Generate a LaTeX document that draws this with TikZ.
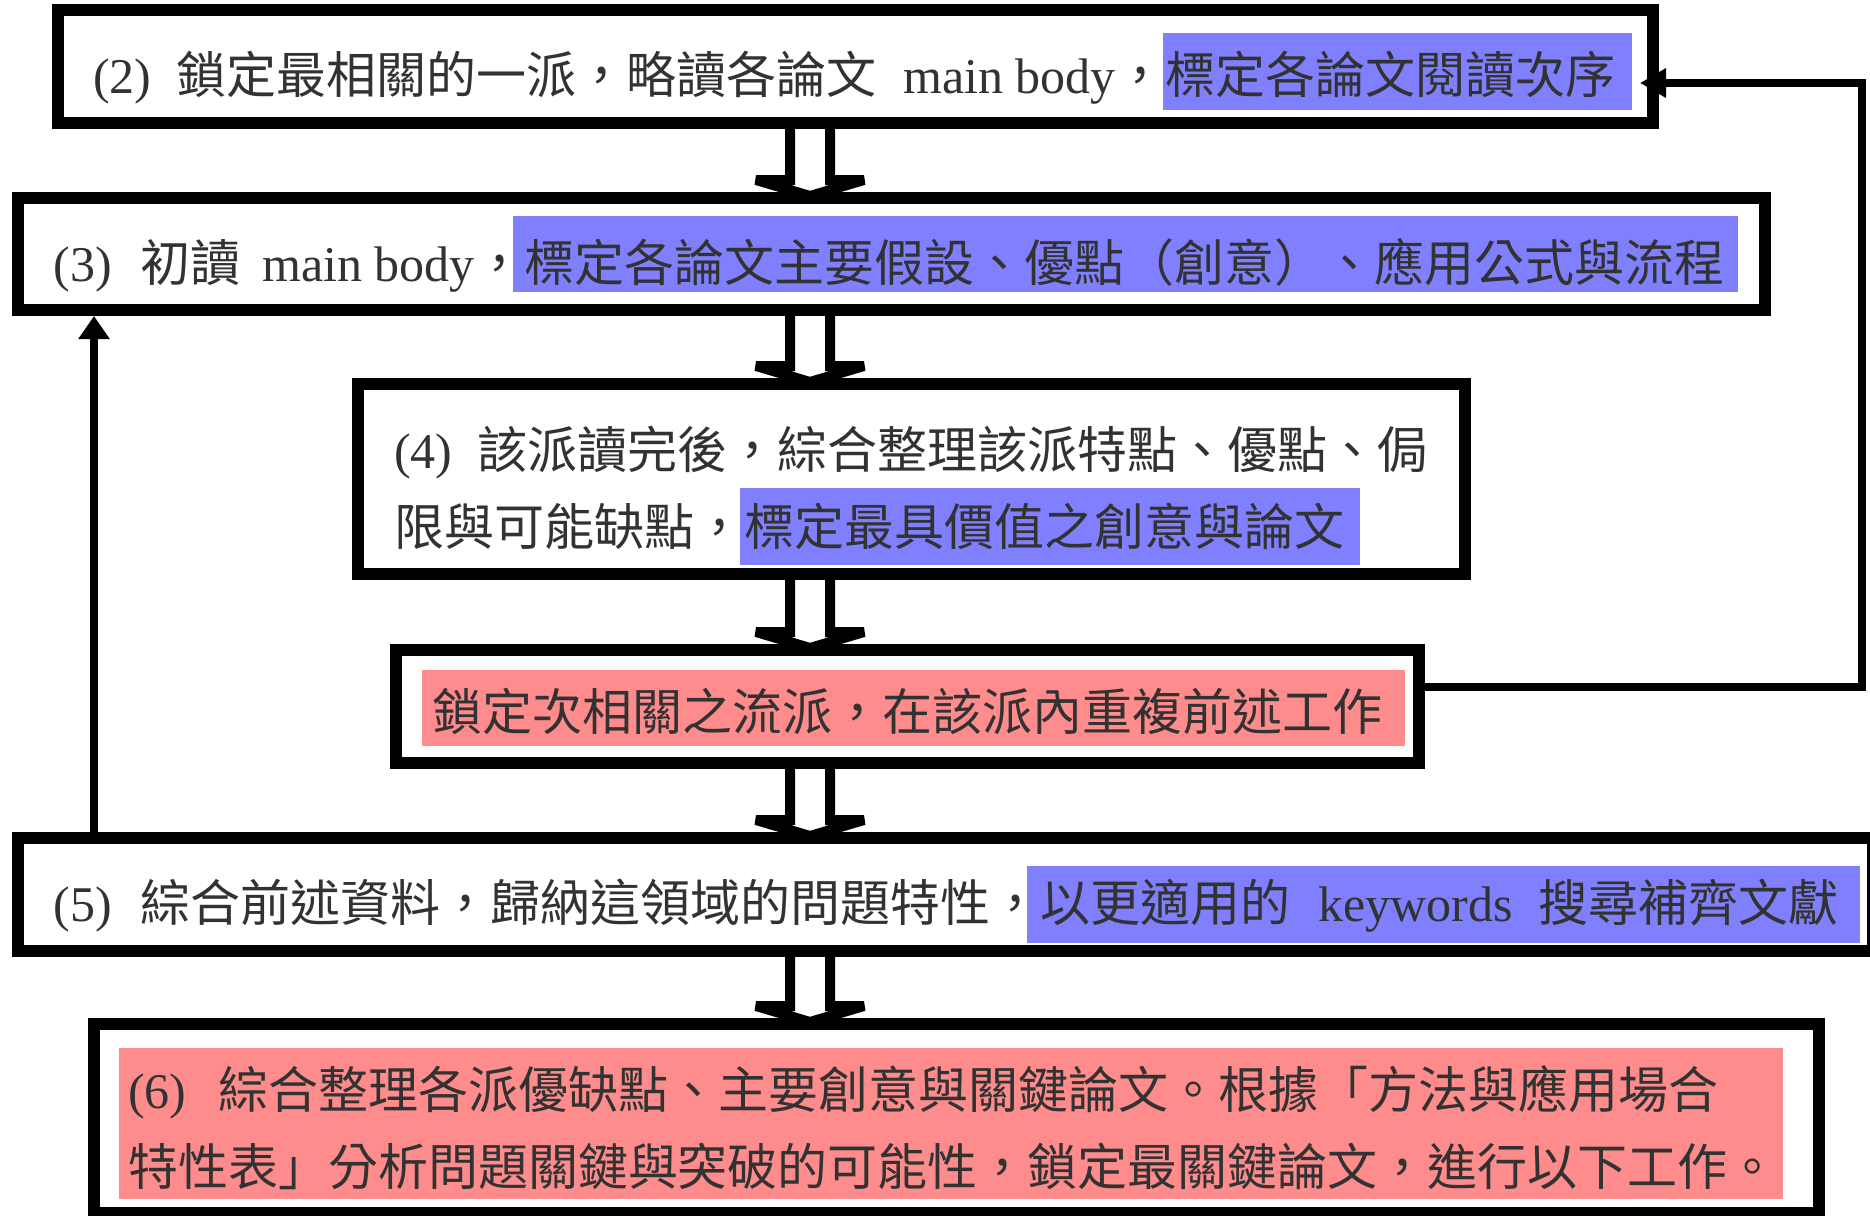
\documentclass[tikz,border=0pt]{standalone}
\usepackage{fontspec}
\setmainfont{Liberation Serif}
\newfontfamily\cjk{Noto Sans CJK TC}
\usetikzlibrary{arrows.meta,calc}
\definecolor{hlblue}{RGB}{128,128,255}
\definecolor{hlred}{RGB}{255,140,140}
\definecolor{txtcol}{RGB}{50,50,50}
\newcommand{\flowarrow}[2]{%
  \draw[hollow] ($(#1)+(-20,-3)$) -- ($(#2)+(-20,-12)$) -- ($(#2)+(-54,-12)$)
     -- ($(#2)+(0,4)$) -- ($(#2)+(54,-12)$) -- ($(#2)+(20,-12)$) -- ($(#1)+(20,-3)$);}
\begin{document}
\begin{tikzpicture}[x=0.5pt,y=-0.5pt,
  box/.style={draw=black, line width=6pt, inner sep=0pt, fill=none},
  hollow/.style={draw=black, line width=5pt, line join=miter, miter limit=2},
  fb/.style={draw=black, line width=4pt, line join=miter},
  txt/.style={anchor=base west, inner sep=0pt, outer sep=0pt,
              font=\fontsize{25pt}{30pt}\selectfont, text=txtcol},
  hlb/.style={fill=hlblue},
  hlr/.style={fill=hlred}]
\useasboundingbox (0,0) rectangle (1870,1216);
\clip (0,0) rectangle (1870,1216);

% highlights
\fill[hlb] (1163,33) rectangle (1632,110);
\fill[hlb] (513,216) rectangle (1738,292);
\fill[hlb] (740,488) rectangle (1360,565);
\fill[hlr] (422,670) rectangle (1405,746);
\fill[hlb] (1027,866) rectangle (1860,943);
\fill[hlr] (119,1048) rectangle (1783,1199);

% boxes
\node[box, minimum width=797.5pt, minimum height=56.5pt] (b2) at (855.5,66.5) {};
\node[box, minimum width=873.5pt, minimum height=56pt]   (b3) at (891.5,254) {};
\node[box, minimum width=553.5pt, minimum height=95pt]   (b4) at (911.5,479) {};
\node[box, minimum width=511.5pt, minimum height=56.5pt] (b5) at (907.5,706.5) {};
\node[box, minimum width=927.5pt, minimum height=56.5pt] (b6) at (945.5,894.5) {};
\node[box, minimum width=862.5pt, minimum height=94.5pt] (b7) at (956.5,1118.5) {};

% texts
\node[txt] (t2) at (93,93) {(2)\hspace{12.5pt}{\cjk 鎖定最相關的一派，略讀各論文}\hspace{13.5pt}main body{\cjk ，標定各論文閱讀次序}};
\node[txt] (t3) at (54,281) {(3)\hspace{14pt}{\cjk 初讀}\hspace{11pt}main body{\cjk ，標定各論文主要假設、優點（創意）、應用公式與流程}};
\node[txt] (t4a) at (394,468) {(4)\hspace{12.5pt}{\cjk 該派讀完後，綜合整理該派特點、優點、侷}};
\node[txt] (t4b) at (394,545) {{\cjk 限與可能缺點，標定最具價值之創意與論文}};
\node[txt] (t5) at (432,730) {{\cjk 鎖定次相關之流派，在該派內重複前述工作}};
\node[txt] (t6) at (54,921) {(5)\hspace{14pt}{\cjk 綜合前述資料，歸納這領域的問題特性，以更適用的}\hspace{14pt}keywords\hspace{13pt}{\cjk 搜尋補齊文獻}};
\node[txt] (t7a) at (128,1108) {(6)\hspace{16pt}{\cjk 綜合整理各派優缺點、主要創意與關鍵論文。根據「方法與應用場合}};
\node[txt] (t7b) at (128,1185) {{\cjk 特性表」分析問題關鍵與突破的可能性，鎖定最關鍵論文，進行以下工作。}};

% main flow arrows
\coordinate (ax) at (810,0);
\flowarrow{b2.south -| ax}{b3.north -| ax}
\flowarrow{b3.south -| ax}{b4.north -| ax}
\flowarrow{b4.south -| ax}{b5.north -| ax}
\flowarrow{b5.south -| ax}{b6.north -| ax}
\flowarrow{b6.south -| ax}{b7.north -| ax}

% feedback loops
\coordinate (rx) at (1862,0);
\coordinate (fbs) at ($(b5.east)+(0,-19.5)$);
\coordinate (fbe) at ($(b2.east)+(-19,16.5)$);
\draw[fb,-{Triangle[length=13pt,width=14pt]}] (fbs) -- (fbs -| rx) -- (fbe -| rx) -- (fbe);
\coordinate (lx) at (94,0);
\draw[fb,-{Triangle[length=11.5pt,width=15pt]}] (b6.north -| lx) -- (b3.south -| lx);
\end{tikzpicture}
\end{document}
